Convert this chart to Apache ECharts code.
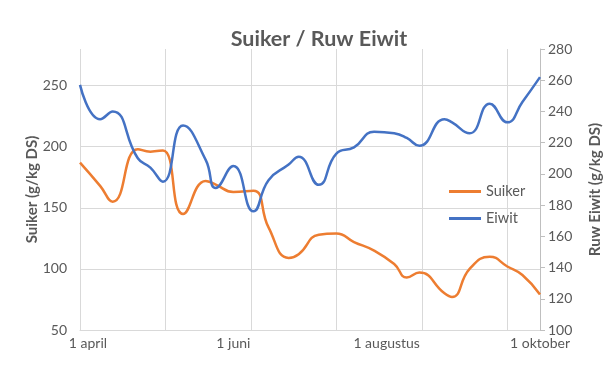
<!DOCTYPE html>
<html>
<head>
<meta charset="utf-8">
<script src="https://cdn.jsdelivr.net/npm/echarts@6/dist/echarts.min.js"></script>
<style>
html,body{margin:0;padding:0;background:#fff;}
#chart{width:611px;height:380px;}
</style>
</head>
<body>
<div id="chart"></div>
<script>
// Day offsets since 1 april
const dagen = [0, 8, 13, 23, 28, 33, 41, 50, 54, 61, 69, 75, 83, 87, 95, 102, 109, 117, 125, 130, 135, 145, 148, 155, 163, 170, 176, 183];
// Suiker (g/kg DS) - left axis
const suiker = [187, 168, 155, 198, 196, 197, 145, 172, 169, 163, 164, 134, 109, 112, 128, 129, 122, 115, 104, 93, 97, 80, 77, 100, 110, 102, 95, 79];
// Ruw Eiwit (g/kg DS) - right axis
const eiwit = [257, 235, 240, 210, 204, 195, 231, 209, 191, 205, 176, 196, 206, 211, 193, 213, 217, 227, 226, 223, 218, 235, 233, 226, 245, 233, 246, 262];
// X tick labels
const xLabelDagen = [0, 61, 122, 183];
const xLabels = ['1 april', '1 juni', '1 augustus', '1 oktober'];

const FONT = 'Lato';
const GREY = '#595959';
const GRID = '#d9d9d9';
const LEGEND_ICON = 'path://M0,0 L0,0 M0,5.5 L32,5.5 L32,8.5 L0,8.5 Z M32,14 L32,14';

const chart = echarts.init(document.getElementById('chart'), null, {renderer: 'canvas'});
chart.setOption({
  backgroundColor: '#fff',
  animation: false,
  textStyle: {fontFamily: FONT},
  title: {
    text: 'Suiker / Ruw Eiwit',
    left: 314, top: 23, textAlign: 'center',
    textStyle: {fontFamily: FONT, fontSize: 21.5, fontWeight: 'bold', color: GREY}
  },
  legend: {
    orient: 'vertical',
    left: 444, top: 179,
    itemWidth: 32, itemHeight: 14, itemGap: 12,
    textStyle: {fontFamily: FONT, fontSize: 14.5, color: GREY},
    data: [
      {name: 'Suiker', icon: LEGEND_ICON, itemStyle: {color: '#ED7D31'}},
      {name: 'Eiwit', icon: LEGEND_ICON, itemStyle: {color: '#4472C4'}}
    ]
  },
  grid: {left: 80, right: 69, top: 49, bottom: 50},
  xAxis: {
    type: 'value',
    min: 0, max: 183, interval: 34,
    axisLine: {show: true, lineStyle: {color: GRID, width: 1}},
    axisTick: {show: false},
    splitLine: {show: true, lineStyle: {color: GRID, width: 1}},
    axisLabel: {
      customValues: xLabelDagen,
      formatter: function (v) {
        const i = xLabelDagen.indexOf(v);
        if (i < 0) return '';
        return i === 0 ? '{first|' + xLabels[i] + '}' : xLabels[i];
      },
      rich: {first: {fontFamily: FONT, fontSize: 14, color: GREY, padding: [0, 0, 0, 16]}},
      fontFamily: FONT, fontSize: 14, color: GREY, margin: 6
    }
  },
  yAxis: [
    {
      type: 'value', min: 50, max: 280, interval: 50,
      name: 'Suiker (g/kg DS)', nameLocation: 'middle', nameGap: 40, nameRotate: 90,
      nameMoveOverlap: false,
      nameTextStyle: {fontFamily: FONT, fontSize: 15, fontWeight: 'bold', color: GREY},
      axisLine: {show: false}, axisTick: {show: false},
      axisLabel: {showMaxLabel: false, fontFamily: FONT, fontSize: 14, color: GREY, margin: 13},
      splitLine: {show: true, showMaxLine: false, lineStyle: {color: GRID, width: 1}}
    },
    {
      type: 'value', min: 100, max: 280, interval: 20, position: 'right',
      name: 'Ruw Eiwit (g/kg DS)', nameLocation: 'middle', nameGap: 48, nameRotate: 90,
      nameMoveOverlap: false,
      nameTextStyle: {fontFamily: FONT, fontSize: 15, fontWeight: 'bold', color: GREY},
      axisLine: {show: true, lineStyle: {color: '#bfbfbf', width: 1}},
      axisTick: {show: true, inside: false, length: 5, lineStyle: {color: '#bfbfbf'}},
      axisLabel: {fontFamily: FONT, fontSize: 14, color: GREY, margin: 8},
      splitLine: {show: false}
    }
  ],
  series: [
    {
      name: 'Suiker', type: 'line', yAxisIndex: 0, smooth: 0.5, symbol: 'none',
      lineStyle: {color: '#ED7D31', width: 2.5}, itemStyle: {color: '#ED7D31'},
      data: dagen.map((d, i) => [d, suiker[i]])
    },
    {
      name: 'Eiwit', type: 'line', yAxisIndex: 1, smooth: 0.5, symbol: 'none',
      lineStyle: {color: '#4472C4', width: 2.5}, itemStyle: {color: '#4472C4'},
      data: dagen.map((d, i) => [d, eiwit[i]])
    }
  ]
});
</script>
</body>
</html>
